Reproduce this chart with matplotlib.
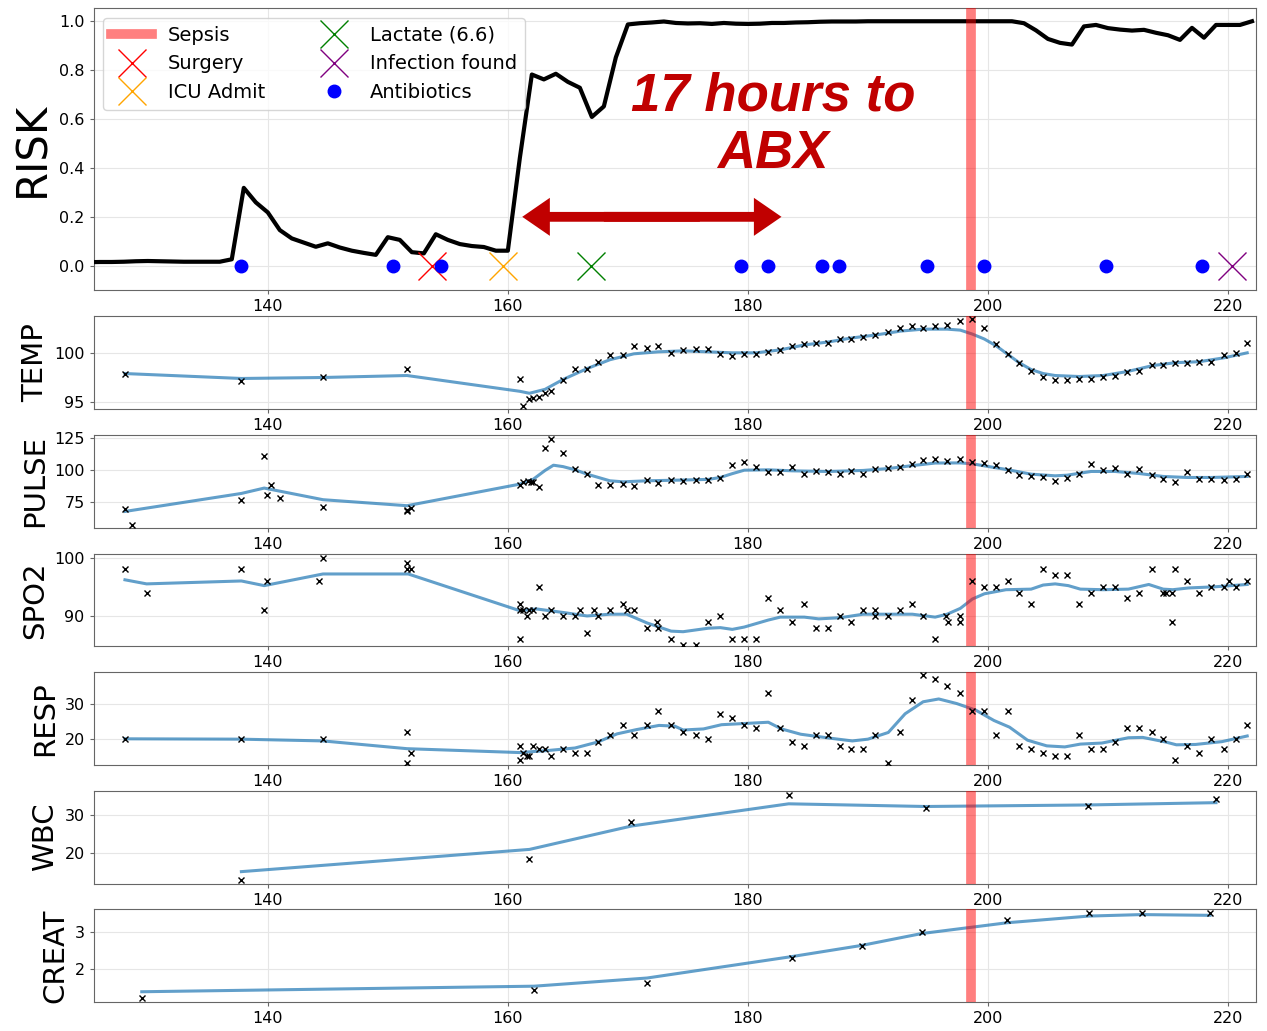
import matplotlib
matplotlib.use('Agg')
import matplotlib.pyplot as plt
import numpy as np

# ---- risk score, hourly ----
risk_hours = list(range(125, 223))
risk = [0.015, 0.016, 0.016, 0.017, 0.019, 0.020, 0.019, 0.018, 0.017, 0.017,
        0.017, 0.017, 0.027, 0.318, 0.259, 0.218, 0.146, 0.112, 0.095, 0.078,
        0.092, 0.075, 0.062, 0.053, 0.045, 0.117, 0.106, 0.056, 0.051, 0.129,
        0.106, 0.089, 0.081, 0.077, 0.062, 0.062, 0.440, 0.780, 0.760, 0.783,
        0.750, 0.726, 0.607, 0.650, 0.850, 0.984, 0.989, 0.992, 0.996, 0.990,
        0.988, 0.989, 0.986, 0.990, 0.987, 0.986, 0.987, 0.990, 0.990, 0.992,
        0.993, 0.995, 0.996, 0.996, 0.996, 0.997, 0.997, 0.997, 0.997, 0.997,
        0.997, 0.997, 0.997, 0.997, 0.997, 0.997, 0.997, 0.997, 0.989, 0.960,
        0.925, 0.909, 0.902, 0.976, 0.982, 0.969, 0.963, 0.959, 0.962, 0.950,
        0.940, 0.921, 0.970, 0.930, 0.982, 0.982, 0.982, 0.997]

sepsis_time = 198.6
surgery_time = 153.7
icu_time = 159.6
lactate_time = 166.9
infection_time = 220.3
abx_times = [137.8, 150.4, 154.4, 179.4, 181.7, 186.2, 187.6, 194.9, 199.7, 209.8, 217.8]

# ---- vitals: observations ----
temp_t = [128.1, 137.8, 144.6, 151.6, 161.0, 161.3, 161.8, 162.1, 162.6, 163.1, 163.6,
          164.6, 165.6, 166.6, 167.5, 168.5, 169.6, 170.5, 171.6, 172.5, 173.6, 174.6,
          175.7, 176.7, 177.7, 178.7, 179.7, 180.7, 181.7, 182.7, 183.7, 184.7, 185.7,
          186.7, 187.7, 188.6, 189.6, 190.6, 191.7, 192.7, 193.7, 194.6, 195.6, 196.6,
          197.7, 198.7, 199.7, 200.7, 201.7, 202.6, 203.6, 204.6, 205.6, 206.6, 207.6,
          208.6, 209.6, 210.6, 211.6, 212.6, 213.7, 214.6, 215.6, 216.6, 217.6, 218.6,
          219.7, 220.7, 221.6]
temp_v = [97.9, 97.1, 97.5, 98.4, 97.3, 94.6, 95.3, 95.4, 95.5, 95.9, 96.1,
          97.2, 98.4, 98.4, 99.1, 99.8, 99.8, 100.7, 100.5, 100.7, 100.0, 100.3,
          100.4, 100.4, 99.9, 99.7, 99.9, 99.9, 100.1, 100.3, 100.7, 100.9, 101.0,
          101.0, 101.4, 101.4, 101.6, 101.8, 102.1, 102.5, 102.7, 102.5, 102.7, 102.8,
          103.2, 103.4, 102.5, 100.9, 99.9, 99.0, 98.2, 97.5, 97.2, 97.2, 97.3,
          97.3, 97.5, 97.7, 98.1, 98.2, 98.8, 98.8, 99.0, 99.0, 99.1, 99.1,
          99.8, 100.0, 101.0]
temp_fit_t = [128.1, 137.8, 144.6, 151.6, 161.0, 161.8, 163.1, 164.6, 166.6, 168.5, 170.5,
              172.5, 174.6, 176.7, 178.7, 180.7, 182.7, 184.7, 186.7, 188.6, 190.6, 192.7,
              194.6, 196.6, 197.7, 198.7, 199.7, 200.7, 201.7, 202.6, 203.6, 204.6, 205.6,
              207.6, 209.6, 211.6, 213.7, 215.6, 217.6, 219.7, 221.6]
temp_fit = [97.9, 97.4, 97.5, 97.7, 96.1, 95.9, 96.3, 97.3, 98.4, 99.3, 99.9,
            100.1, 100.2, 100.1, 100.0, 100.0, 100.3, 100.8, 101.1, 101.5, 101.8, 102.2,
            102.4, 102.4, 102.3, 101.9, 101.4, 100.7, 99.8, 99.0, 98.3, 97.9, 97.7,
            97.6, 97.7, 98.1, 98.7, 99.0, 99.1, 99.5, 100.0]

pulse_t = [128.1, 128.7, 137.8, 139.7, 139.9, 140.3, 141.0, 144.6, 151.6, 151.6, 151.9,
           161.0, 161.3, 161.7, 161.9, 162.1, 162.6, 163.1, 163.6, 164.6, 165.6, 166.6,
           167.5, 168.5, 169.6, 170.5, 171.6, 172.5, 173.6, 174.6, 175.7, 176.7, 177.7,
           178.7, 179.7, 180.7, 181.7, 182.7, 183.7, 184.7, 185.7, 186.7, 187.7, 188.6,
           189.6, 190.6, 191.7, 192.7, 193.7, 194.6, 195.6, 196.6, 197.7, 198.7, 199.7,
           200.7, 201.7, 202.6, 203.6, 204.6, 205.6, 206.6, 207.6, 208.6, 209.6, 210.6,
           211.6, 212.6, 213.7, 214.6, 215.6, 216.6, 217.6, 218.6, 219.7, 220.7, 221.6]
pulse_v = [69.0, 56.8, 76.0, 111.2, 79.9, 88.3, 78.1, 71.1, 68.5, 67.4, 70.1,
           88.3, 90.1, 90.9, 90.1, 90.1, 86.2, 116.9, 124.2, 113.0, 101.0, 97.1,
           88.3, 88.3, 89.1, 87.0, 92.2, 89.3, 92.2, 90.9, 91.9, 91.9, 93.2,
           103.4, 106.0, 102.3, 97.9, 97.9, 102.3, 97.1, 99.0, 97.9, 97.1, 99.0,
           97.1, 100.3, 101.3, 102.3, 104.2, 107.6, 108.3, 107.0, 108.1, 106.5, 105.2,
           103.4, 100.0, 96.1, 95.3, 94.0, 90.9, 93.2, 97.1, 104.2, 100.0, 101.3,
           97.1, 100.3, 96.1, 93.0, 90.1, 97.9, 93.0, 93.0, 91.9, 93.0, 97.1]
pulse_fit_t = [128.1, 137.8, 139.7, 144.6, 151.6, 161.0, 162.1, 163.1, 163.8, 164.6, 165.6,
               166.6, 168.5, 169.6, 171.6, 174.6, 176.7, 177.7, 178.7, 179.7, 181.7, 183.7,
               186.7, 189.6, 191.7, 193.7, 195.6, 197.7, 198.7, 199.7, 201.7, 203.6, 205.6,
               206.6, 208.6, 210.6, 212.6, 214.6, 216.6, 218.6, 221.6]
pulse_fit = [67.4, 81.5, 85.7, 76.6, 71.9, 88.8, 92.5, 99.5, 103.6, 102.5, 100.0,
             96.6, 91.4, 90.6, 91.4, 92.0, 92.5, 94.0, 97.0, 99.7, 100.0, 99.2,
             98.7, 99.5, 101.0, 103.3, 105.3, 105.4, 104.7, 103.1, 100.0, 96.6, 95.3,
             95.8, 98.7, 98.7, 97.1, 94.8, 94.0, 94.0, 94.8]

spo2_t = [128.1, 129.9, 137.8, 139.7, 139.9, 144.3, 144.6, 151.6, 151.6, 151.9,
          161.0, 161.0, 161.0, 161.3, 161.6, 161.8, 162.1, 162.6, 163.1, 163.6, 164.6,
          165.6, 166.0, 166.6, 167.2, 167.5, 168.5, 169.6, 169.9, 170.5, 171.6, 172.4,
          172.5, 173.6, 174.6, 175.7, 176.7, 177.7, 178.7, 179.7, 180.7, 181.7, 182.7,
          183.7, 184.7, 185.7, 186.7, 187.7, 188.6, 189.6, 190.6, 190.6, 191.7, 192.7,
          193.7, 194.6, 195.6, 196.5, 196.7, 197.7, 197.7, 198.7, 199.7, 200.7, 201.7,
          202.6, 203.6, 204.6, 205.6, 206.6, 207.6, 208.6, 209.6, 210.6, 211.6, 212.6,
          213.7, 214.6, 214.8, 215.3, 215.3, 215.6, 216.6, 217.6, 218.6, 219.7, 220.1,
          220.7, 221.6]
spo2_v = [98, 94, 98, 91, 96, 96, 100, 99, 98, 98,
          92, 91, 86, 91, 90, 91, 91, 95, 90, 91, 90,
          90, 91, 87, 91, 90, 91, 92, 91, 91, 88, 89,
          88, 86, 85, 85, 89, 90, 86, 86, 86, 93, 91,
          89, 92, 88, 88, 90, 89, 91, 91, 90, 90, 91,
          92, 90, 86, 90, 89, 90, 89, 96, 95, 95, 96,
          94, 92, 98, 97, 97, 92, 94, 95, 95, 93, 94,
          98, 94, 94, 89, 94, 98, 96, 94, 95, 95, 96,
          95, 96]
spo2_fit_t = [128.1, 129.9, 137.8, 139.7, 144.6, 151.7, 161.0, 162.4, 164.6, 166.6, 168.5,
              169.9, 171.6, 173.6, 174.6, 176.7, 177.7, 178.7, 179.7, 180.7, 181.7, 182.7,
              184.7, 185.9, 187.7, 189.6, 191.7, 193.7, 195.6, 196.6, 197.7, 198.7, 199.7,
              201.5, 203.6, 204.6, 205.6, 206.7, 207.7, 209.6, 211.7, 213.4, 214.6, 215.4,
              216.7, 218.9, 221.6]
spo2_fit = [96.2, 95.5, 96.0, 95.2, 97.2, 97.2, 90.9, 91.2, 90.6, 90.0, 90.3,
            90.3, 88.8, 87.4, 87.3, 87.9, 88.0, 87.7, 88.1, 88.7, 89.3, 89.8,
            89.8, 89.5, 89.7, 90.3, 90.3, 90.3, 89.8, 90.3, 91.3, 92.9, 93.8,
            94.5, 94.6, 95.3, 95.5, 95.2, 94.6, 94.5, 94.6, 95.4, 94.6, 94.5,
            94.8, 95.0, 95.4]

resp_t = [128.1, 137.8, 144.6, 151.6, 151.6, 151.9, 161.0, 161.0, 161.3, 161.6, 161.8,
          162.1, 162.6, 163.1, 163.6, 164.6, 165.6, 166.6, 167.5, 168.5, 169.6, 170.5,
          171.6, 172.5, 173.6, 174.6, 175.7, 176.7, 177.7, 178.7, 179.7, 180.7, 181.7,
          182.7, 183.7, 184.7, 185.7, 186.7, 187.7, 188.6, 189.6, 190.6, 191.7, 192.7,
          193.7, 194.6, 195.6, 196.6, 197.7, 198.7, 199.7, 200.7, 201.7, 202.6, 203.6,
          204.6, 205.6, 206.6, 207.6, 208.6, 209.6, 210.6, 211.6, 212.6, 213.7, 214.6,
          215.6, 216.6, 217.6, 218.6, 219.7, 220.7, 221.6]
resp_v = [20, 20, 20, 22, 13, 16, 18, 14, 16, 15, 15,
          18, 17, 17, 15, 17, 16, 16, 19, 21, 24, 21,
          24, 28, 24, 22, 21, 20, 27, 26, 24, 23, 33,
          23, 19, 18, 21, 21, 18, 17, 17, 21, 13, 22,
          31, 38, 37, 35, 33, 28, 28, 21, 28, 18, 17,
          16, 15, 15, 21, 17, 17, 19, 23, 23, 22, 20,
          14, 18, 16, 20, 17, 20, 24]
resp_fit_t = [128.1, 137.8, 144.6, 151.6, 161.0, 163.4, 165.6, 167.5, 169.1, 170.7, 172.6,
              173.9, 174.6, 176.3, 177.8, 180.6, 181.7, 182.8, 184.4, 186.8, 188.7, 190.0,
              191.7, 193.1, 194.6, 195.9, 197.4, 199.0, 200.5, 201.8, 203.3, 204.9, 206.4,
              207.7, 209.5, 211.7, 212.9, 214.8, 215.7, 217.3, 219.5, 221.6]
resp_fit = [20.0, 19.9, 19.4, 17.2, 16.1, 16.7, 17.4, 19.1, 21.4, 22.6, 23.8,
            23.6, 22.5, 22.8, 24.0, 24.5, 24.7, 22.8, 21.3, 20.2, 19.4, 19.9,
            21.8, 27.1, 30.5, 31.3, 30.0, 28.1, 25.2, 23.3, 19.6, 18.0, 17.7,
            18.5, 18.8, 20.3, 20.4, 19.1, 18.3, 18.4, 19.2, 20.8]

# ---- labs ----
wbc_t = [137.8, 161.8, 170.3, 183.4, 194.8, 208.3, 219.0]
wbc_v = [12.8, 18.4, 28.0, 35.0, 31.7, 32.3, 34.0]
wbc_fit = [15.1, 20.9, 27.0, 32.8, 32.1, 32.5, 33.1]

creat_t = [129.5, 162.2, 171.6, 183.7, 189.5, 194.5, 201.6, 208.4, 212.8, 218.5]
creat_v = [1.22, 1.42, 1.62, 2.30, 2.60, 3.00, 3.31, 3.50, 3.50, 3.50]
creat_fit = [1.38, 1.53, 1.75, 2.33, 2.63, 2.95, 3.24, 3.42, 3.46, 3.44]

panels = [
    ('TEMP', temp_t, temp_v, temp_fit_t, temp_fit, (94.3, 103.7), [95, 100]),
    ('PULSE', pulse_t, pulse_v, pulse_fit_t, pulse_fit, (54.7, 127.3), [75, 100, 125]),
    ('SPO2', spo2_t, spo2_v, spo2_fit_t, spo2_fit, (84.8, 100.7), [90, 100]),
    ('RESP', resp_t, resp_v, resp_fit_t, resp_fit, (12.6, 38.9), [20, 30]),
    ('WBC', wbc_t, wbc_v, wbc_t, wbc_fit, (12.0, 36.2), [20, 30]),
    ('CREAT', creat_t, creat_v, creat_t, creat_fit, (1.10, 3.60), [2, 3]),
]

xlim = (125.5, 222.3)
xticks = [140, 160, 180, 200, 220]
dark_red = '#c00000'
sepsis_kw = dict(color='red', alpha=0.5, lw=7)

fig = plt.figure(figsize=(12.67, 10.31), dpi=100)
gs = fig.add_gridspec(7, 1, height_ratios=[283] + [93] * 6, left=0.074, right=0.991,
                      top=0.992, bottom=0.028, hspace=0.216)

def style(ax):
    ax.set_xlim(*xlim)
    ax.set_xticks(xticks)
    ax.grid(True, color='#e6e6e6', lw=0.8)
    ax.set_axisbelow(True)
    ax.tick_params(labelsize=11.5, length=3, color='0.4')
    for s in ax.spines.values():
        s.set_color('0.4')

# ---- top risk panel ----
ax = fig.add_subplot(gs[0])
style(ax)
ax.plot(risk_hours, risk, color='black', lw=3, zorder=3)
ax.axvline(sepsis_time, label='Sepsis', zorder=4, **sepsis_kw)
ax.plot([surgery_time], [0], 'x', color='red', ms=20, mew=1, ls='none', label='Surgery', zorder=5)
ax.plot([icu_time], [0], 'x', color='orange', ms=20, mew=1, ls='none', label='ICU Admit', zorder=5)
ax.plot([lactate_time], [0], 'x', color='green', ms=20, mew=1, ls='none', label='Lactate (6.6)', zorder=5)
ax.plot([infection_time], [0], 'x', color='purple', ms=20, mew=1, ls='none', label='Infection found', zorder=5)
ax.plot(abx_times, [0] * len(abx_times), 'o', color='blue', ms=9, ls='none', label='Antibiotics', zorder=5)
ax.set_ylim(-0.1, 1.05)
ax.set_yticks([0.0, 0.2, 0.4, 0.6, 0.8, 1.0])
ax.set_ylabel('RISK', fontsize=30)
ax.legend(loc='upper left', ncol=2, fontsize=14, handlelength=2.1,
          borderaxespad=0.5, labelspacing=0.5, columnspacing=2.5, handletextpad=0.8)

# 17 hours annotation: double arrow made of two halves
for x0, dx in [(168.0, 14.8), (176.0, -14.8)]:
    ax.arrow(x0, 0.2, dx, 0, width=0.04, head_width=0.155, head_length=2.3,
             length_includes_head=True, color=dark_red, lw=0, zorder=6, snap=False)
ax.text(182.1, 0.572, '17 hours to\nABX', ha='center', va='center', fontsize=38,
        fontweight='bold', fontstyle='italic', color=dark_red,
        family=['Liberation Sans', 'DejaVu Sans'], zorder=6)

# ---- vitals / labs ----
for i, (name, t, v, ft, fv, ylim, yt) in enumerate(panels):
    a = fig.add_subplot(gs[i + 1])
    style(a)
    a.plot(ft, fv, color='tab:blue', alpha=0.7, lw=2.2, zorder=2)
    a.axvline(sepsis_time, zorder=3, **sepsis_kw)
    a.plot(t, v, 'x', color='black', ms=4, mew=1, ls='none', zorder=4)
    a.set_ylim(*ylim)
    a.set_yticks(yt)
    a.set_ylabel(name, fontsize=21)

fig.savefig('out.png', dpi=100)
